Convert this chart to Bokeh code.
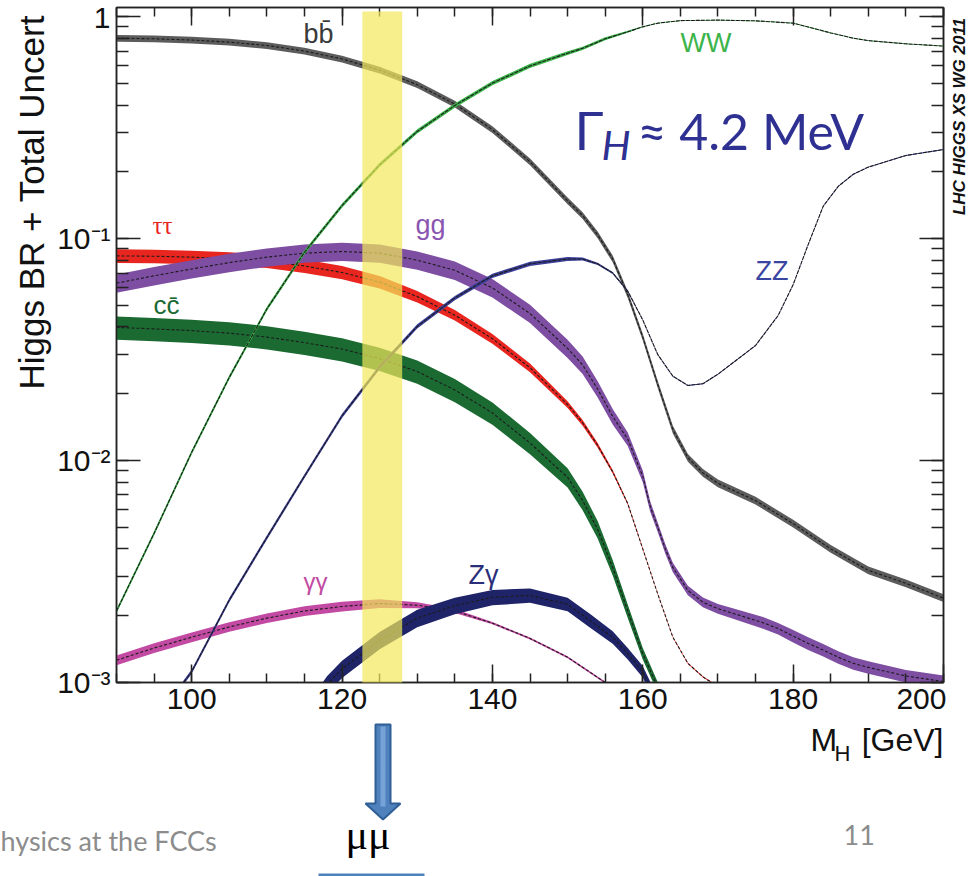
import math
from bokeh.plotting import figure
from bokeh.layouts import column, row
from bokeh.models import (FixedTicker, LogAxis, LinearAxis, Label, BoxAnnotation, Range1d)
from bokeh.embed import file_html
from bokeh.resources import INLINE

# ---------------- data ----------------
m_bb = [90, 95, 100, 105, 110, 115, 120, 125, 130, 135, 140, 145, 150, 152, 154, 156, 158, 160,
        162, 164, 166, 168, 170, 175, 180, 185, 190, 195, 200]
br_bb = [0.80, 0.795, 0.785, 0.768, 0.742, 0.70, 0.645, 0.575, 0.494, 0.404, 0.31, 0.222, 0.148,
         0.127, 0.104, 0.081, 0.056, 0.036, 0.022, 0.0138, 0.0103, 0.0088, 0.0079, 0.0066, 0.0052,
         0.0040, 0.0032, 0.0028, 0.0024]
err_bb = [0.035, 0.035, 0.035, 0.035, 0.035, 0.035, 0.035, 0.035, 0.035, 0.035, 0.035, 0.035, 0.035,
          0.035, 0.035, 0.035, 0.035, 0.035, 0.038, 0.04, 0.04, 0.04, 0.04, 0.04, 0.04, 0.04, 0.04,
          0.04, 0.04]

m_tt = [90, 95, 100, 105, 110, 115, 120, 125, 130, 135, 140, 145, 150, 152, 154, 156, 158, 160,
        162, 164, 166, 168, 170, 172]
br_tt = [0.0836, 0.0833, 0.0825, 0.0812, 0.0792, 0.0753, 0.0704, 0.0637, 0.0548, 0.0452, 0.0354,
         0.0262, 0.0179, 0.0148, 0.0117, 0.0089, 0.0064, 0.0040, 0.0025, 0.0016, 0.00122, 0.00106,
         0.00096, 0.0009]
err_tt = [0.07, 0.07, 0.07, 0.07, 0.07, 0.07, 0.068, 0.065, 0.06, 0.055, 0.05, 0.045, 0.035, 0.03,
          0.025, 0.018, 0.012, 0.008, 0.006, 0.006, 0.006, 0.006, 0.006, 0.006]

m_cc = [90, 95, 100, 105, 110, 115, 120, 125, 130, 135, 140, 145, 150, 152, 154, 156, 158, 160,
        162, 164]
br_cc = [0.0398, 0.0392, 0.0385, 0.0375, 0.0360, 0.0340, 0.0318, 0.0288, 0.0252, 0.0208, 0.0164,
         0.0120, 0.0084, 0.0066, 0.0049, 0.0033, 0.0021, 0.00135, 0.00095, 0.0007]
err_cc = [0.12, 0.12, 0.12, 0.12, 0.12, 0.12, 0.12, 0.12, 0.12, 0.12, 0.115, 0.11, 0.10, 0.095,
          0.09, 0.08, 0.07, 0.06, 0.055, 0.05]

m_gg = [90, 95, 100, 105, 110, 115, 120, 125, 130, 135, 140, 145, 150, 152, 154, 156, 158, 160,
        161, 162, 163, 164, 166, 168, 170, 173, 176, 178, 180, 182, 184, 186, 188, 190, 195, 200]
br_gg = [0.063, 0.068, 0.073, 0.078, 0.0825, 0.086, 0.0875, 0.086, 0.080, 0.072, 0.060, 0.046,
         0.032, 0.027, 0.021, 0.0158, 0.0125, 0.0085, 0.0062, 0.0050, 0.0040, 0.0033, 0.0026,
         0.0023, 0.00215, 0.0020, 0.00186, 0.00175, 0.00162, 0.0015, 0.0014, 0.0013, 0.00122,
         0.00117, 0.00107, 0.00101]
err_gg = [0.095, 0.095, 0.095, 0.095, 0.095, 0.095, 0.095, 0.095, 0.095, 0.095, 0.095, 0.095,
          0.095, 0.09, 0.085, 0.08, 0.07, 0.06, 0.055, 0.05, 0.05, 0.05, 0.05, 0.05, 0.05, 0.055,
          0.06, 0.06, 0.065, 0.065, 0.065, 0.065, 0.065, 0.065, 0.065, 0.065]

m_aa = [90, 95, 100, 105, 110, 115, 120, 125, 130, 135, 140, 145, 150, 155, 158]
br_aa = [0.00126, 0.00143, 0.0016, 0.00178, 0.00195, 0.0021, 0.0022, 0.00227, 0.00223, 0.0021,
         0.00185, 0.00158, 0.0013, 0.001, 0.00082]
err_aa = [0.05, 0.05, 0.05, 0.05, 0.05, 0.05, 0.05, 0.045, 0.03, 0.02, 0.012, 0.01, 0.01, 0.01, 0.01]

m_za = [110, 115, 118, 120, 125, 130, 135, 140, 145, 150, 153, 156, 158, 160, 161, 162]
br_za = [0.00035, 0.0007, 0.00098, 0.00115, 0.00155, 0.00195, 0.00222, 0.00242, 0.00247, 0.00225,
         0.0019, 0.0016, 0.00135, 0.00112, 0.00095, 0.0008]
err_za = [0.09, 0.09, 0.09, 0.09, 0.09, 0.09, 0.085, 0.08, 0.075, 0.07, 0.07, 0.065, 0.06, 0.06,
          0.06, 0.06]

m_ww = [90, 95, 100, 105, 110, 115, 120, 125, 130, 135, 140, 145, 150, 152, 155, 158, 160, 162,
        165, 170, 175, 180, 183, 185, 188, 190, 195, 200]
br_ww = [0.0021, 0.0047, 0.0109, 0.0237, 0.0482, 0.0868, 0.141, 0.215, 0.304, 0.398, 0.502, 0.60,
         0.685, 0.72, 0.795, 0.855, 0.90, 0.935, 0.96, 0.965, 0.958, 0.935, 0.88, 0.845, 0.80,
         0.78, 0.755, 0.737]
err_ww = [0.022, 0.022, 0.022, 0.022, 0.022, 0.022, 0.022, 0.022, 0.022, 0.022, 0.022, 0.022,
          0.02, 0.018, 0.015, 0.01, 0.005, 0.004, 0.004, 0.004, 0.004, 0.004, 0.004, 0.004, 0.004,
          0.004, 0.004, 0.004]

m_zz = [95, 100, 105, 110, 115, 120, 125, 130, 135, 140, 145, 150, 152, 154, 156, 158, 160, 162,
        164, 166, 168, 170, 175, 178, 180, 182, 184, 186, 188, 190, 195, 200]
br_zz = [0.00066, 0.00112, 0.00235, 0.0045, 0.0085, 0.0159, 0.0264, 0.0402, 0.054, 0.068, 0.077,
         0.081, 0.081, 0.077, 0.070, 0.058, 0.043, 0.030, 0.024, 0.0218, 0.0222, 0.0245, 0.033,
         0.045, 0.062, 0.094, 0.14, 0.172, 0.195, 0.21, 0.237, 0.252]
err_zz = [0.022, 0.022, 0.022, 0.022, 0.022, 0.022, 0.022, 0.022, 0.022, 0.022, 0.022, 0.02,
          0.015, 0.012, 0.01, 0.008, 0.005, 0.005, 0.005, 0.005, 0.005, 0.005, 0.005, 0.005, 0.005,
          0.005, 0.005, 0.005, 0.005, 0.005, 0.005, 0.005]

band_mh = [122.7, 128.0]           # highlighted mass window
x_major = [100, 120, 140, 160, 180, 200]
x_minor = [90, 95, 100, 105, 110, 115, 120, 125, 130, 135, 140, 145, 150, 155, 160, 165, 170,
           175, 180, 185, 190, 195, 200]
y_major = [0.001, 0.01, 0.1, 1.0]
y_labels = {0.001: "10\u207b\u00b3", 0.01: "10\u207b\u00b2", 0.1: "10\u207b\u00b9", 1.0: "1"}

# ---------------- layout (page pixels) ----------------
W, H = 978, 876
LW, RW = 52, 32          # left / right strips
SPLIT = 722              # top part height
FL, FR, FT, FB = 116, 943, 7, 682
X0, X1 = 90.0, 200.0
Y0, Y1 = 1e-3, 1.1


def px2x(px):
    return X0 + (px - FL) / (FR - FL) * (X1 - X0)


def px2y(py):
    l0, l1 = math.log10(Y0), math.log10(Y1)
    return 10 ** (l0 + (FB - py) / (FB - FT) * (l1 - l0))


PW = W - LW - RW
p = figure(width=PW, height=SPLIT, x_range=Range1d(X0, X1), y_range=Range1d(Y0, Y1),
           y_axis_type="log", output_backend="svg", toolbar_location=None,
           min_border_left=FL - LW, min_border_right=(W - RW) - FR, min_border_top=FT,
           min_border_bottom=SPLIT - FB)
p.xgrid.visible = False
p.ygrid.visible = False
p.outline_line_color = "#222222"
p.outline_line_width = 1.5
p.background_fill_color = "white"
p.border_fill_color = "white"

y_minor = [k * 10.0 ** e for e in (-3, -2, -1) for k in range(1, 10)] + [1.0]

xa = p.xaxis[0]
xa.ticker = FixedTicker(ticks=x_major, minor_ticks=x_minor)
ya = p.yaxis[0]
ya.ticker = FixedTicker(ticks=y_major, minor_ticks=y_minor)
ya.major_label_overrides = y_labels
for ax in (xa, ya):
    ax.major_tick_out = 0
    ax.minor_tick_out = 0
    ax.axis_line_color = "#222222"
    ax.axis_line_width = 1.5
    ax.major_tick_line_color = "#222222"
    ax.minor_tick_line_color = "#222222"
    ax.major_tick_line_width = 1.5
    ax.minor_tick_line_width = 1.5
    ax.major_label_text_font = "Liberation Sans"
    ax.major_label_text_font_size = "30px"
    ax.major_label_text_color = "#111111"
xa.major_tick_in = 18
xa.minor_tick_in = 9
xa.major_label_standoff = 6
ya.major_tick_in = 24
ya.minor_tick_in = 12
ya.major_label_standoff = 6


def mirror_axis(cls, major, minor, tin):
    return cls(ticker=FixedTicker(ticks=major, minor_ticks=minor),
               major_label_text_font_size="1px", major_label_text_alpha=0.0,
               major_label_standoff=0,
               major_tick_in=tin, major_tick_out=0, minor_tick_in=tin // 2, minor_tick_out=0,
               axis_line_width=1.5, major_tick_line_width=1.5, minor_tick_line_width=1.5,
               axis_line_color="#222222", major_tick_line_color="#222222",
               minor_tick_line_color="#222222")


p.add_layout(mirror_axis(LinearAxis, x_major, x_minor, 18), "above")
p.add_layout(mirror_axis(LogAxis, y_major, y_minor, 24), "right")

series = [
    (m_bb, br_bb, err_bb, "#5c5c5c", "3 2"),
    (m_tt, br_tt, err_tt, "#e8261f", "3 2"),
    (m_cc, br_cc, err_cc, "#1b6a32", "3 2"),
    (m_gg, br_gg, err_gg, "#7e4ea3", "3 2"),
    (m_aa, br_aa, err_aa, "#c24aa2", "3 2"),
    (m_za, br_za, err_za, "#1f2468", "3 2"),
    (m_ww, br_ww, err_ww, "#3cb44b", "4 1"),
    (m_zz, br_zz, err_zz, "#3b3f99", "4 1"),
]
for m, br, er, col, dash in series:
    lo = [b * (1 - e) for b, e in zip(br, er)]
    hi = [b * (1 + e) for b, e in zip(br, er)]
    p.varea(x=m, y1=lo, y2=hi, fill_color=col, fill_alpha=1.0)
    p.line(m, br, line_color="#1c1c1c", line_width=1.1, line_dash=dash)

# highlighted window
p.add_layout(BoxAnnotation(left=band_mh[0], right=band_mh[1], top=px2y(11), bottom=px2y(685),
                           fill_color="#f2e85a", fill_alpha=0.7, line_alpha=0, level="overlay"))

# text-centre offset (fraction of font size) between baseline and the label anchor
KOFF = {"Liberation Sans": 0.347, "Liberation Serif": 0.338, "Lato": 0.387}


def lab(fig, text, x, y, size, color, font="Liberation Sans", style="normal", align="left",
        angle=0.0, data=False):
    """x, y: page pixels of the text baseline start/end."""
    off = KOFF[font] * size
    if angle == 0.0:
        y = y - off
    else:
        x = x - off
    fig.add_layout(Label(x=px2x(x) if data else x, y=px2y(y) if data else y, text=text,
                         text_font=font, text_font_size=f"{size}px", text_color=color,
                         text_font_style=style, text_align=align, text_baseline="alphabetic",
                         angle=angle))


# curve labels (inside the frame)
lab(p, "bb\u0304", 303, 43, 27, "#3a3a3a", data=True)
lab(p, "WW", 680, 52, 27, "#3cb44b", data=True)
lab(p, "\u03c4\u03c4", 152, 233, 25, "#e8261f", font="Liberation Serif", data=True)
lab(p, "cc\u0304", 153, 314, 26, "#1b6a32", data=True)
lab(p, "gg", 415, 234, 27, "#8a55b0", data=True)
lab(p, "ZZ", 755, 280, 27, "#3a45a0", data=True)
lab(p, "\u03b3\u03b3", 303, 589, 24, "#c24aa2", data=True)
lab(p, "Z\u03b3", 468, 584, 27, "#2b2f7a", data=True)
lab(p, "\u0393", 574, 150, 53, "#2e3192", font="Lato", data=True)
lab(p, "H", 601, 160, 41, "#2e3192", font="Lato", style="italic", data=True)
lab(p, "\u2248 4.2 MeV", 637, 150, 50, "#2e3192", font="Lato", data=True)


def strip(width, height, x0, y0):
    f = figure(width=width, height=height, x_range=Range1d(x0, x0 + width),
               y_range=Range1d(y0 + height, y0), x_axis_location=None, y_axis_location=None,
               toolbar_location=None, output_backend="svg", min_border=0)
    f.outline_line_color = None
    f.grid.visible = False
    f.background_fill_color = "white"
    f.border_fill_color = "white"
    return f


# left strip: y title
qL = strip(LW, SPLIT, 0, 0)
lab(qL, "Higgs BR + Total Uncert", 43, 8, 35, "#111111", align="right", angle=math.pi / 2)

# right strip: working-group tag
qR = strip(RW, SPLIT, W - RW, 0)
lab(qR, "LHC HIGGS XS WG 2011", 965, 222, 17, "#111111", style="bold italic",
    angle=math.pi / 2)

# bottom strip: x title and slide elements
qB = strip(W, H - SPLIT, 0, SPLIT)
lab(qB, "M", 810, 751, 32, "#111111")
lab(qB, "H", 834, 761, 22, "#111111")
lab(qB, "[GeV]", 943, 751, 32, "#111111", align="right")
arrow_x = [375, 390, 390, 400, 382.5, 365, 375]
arrow_y = [724, 724, 803, 803, 819, 803, 803]
qB.patch(arrow_x, arrow_y, fill_color="#4f81bd", line_color="#2f5f96", line_width=2)
qB.line([382.5, 382.5], [726, 806], line_color="#76a2d8", line_width=5)
qB.line([318, 424], [874.5, 874.5], line_color="#4f81bd", line_width=3)
lab(qB, "\u03bc\u03bc", 345, 849, 42, "#000000", font="Liberation Serif")
lab(qB, "hysics at the FCCs", 0, 850, 27, "#8c8c8c", font="Lato")
lab(qB, "11", 843, 845, 27, "#8c8c8c", font="Lato")

layout = column(row(qL, p, qR), qB)
open("out.html", "w").write(file_html(layout, INLINE))
